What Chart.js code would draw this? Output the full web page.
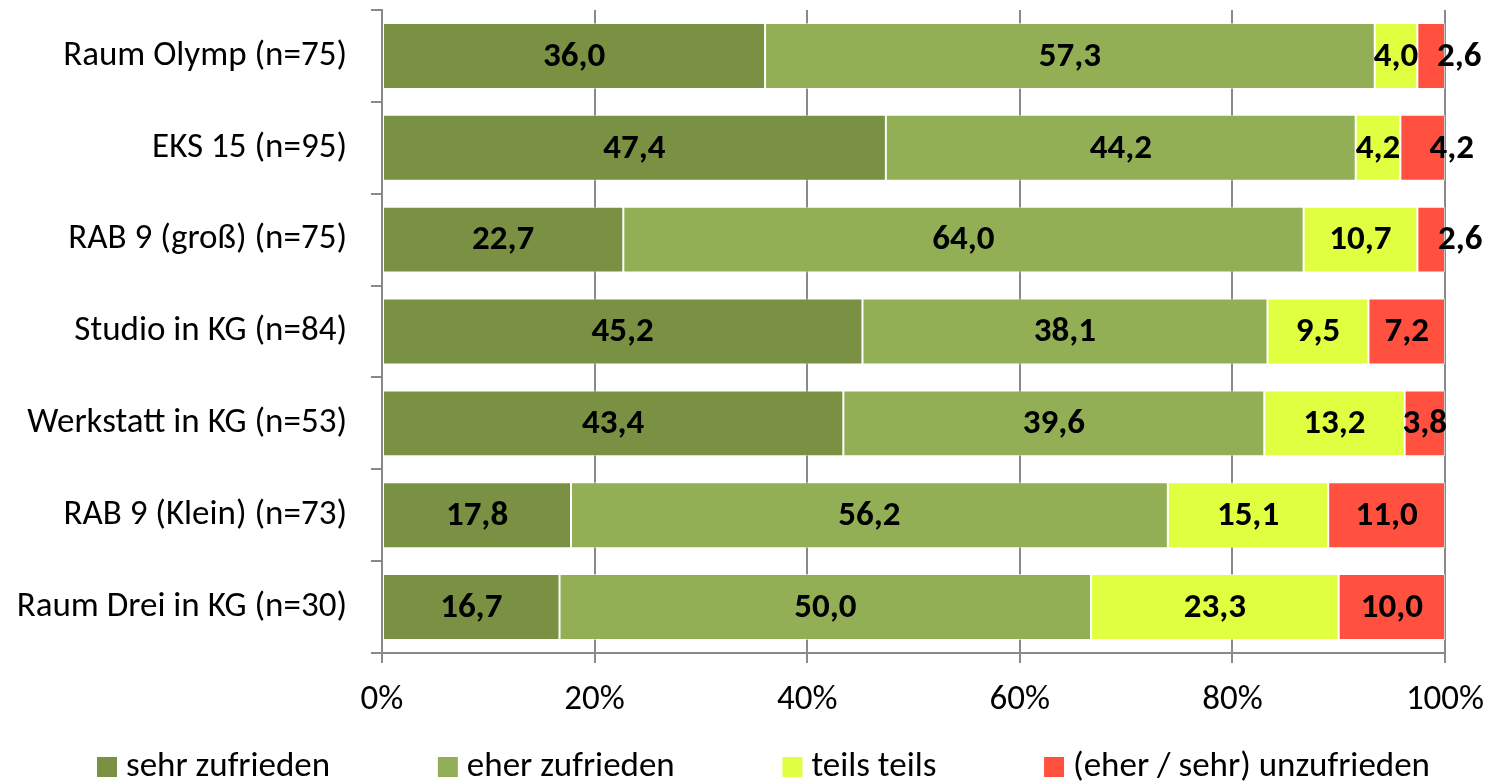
<!DOCTYPE html>
<html>
<head>
<meta charset="utf-8">
<script src="https://cdn.jsdelivr.net/npm/chart.js@4.4.1/dist/chart.umd.min.js"></script>
<style>
  html, body { margin: 0; padding: 0; background: #fff; }
  #wrap { width: 1492px; height: 783px; position: relative; }
</style>
</head>
<body>
<div id="wrap"><canvas id="myChart" width="1492" height="783"></canvas></div>
<script>
(function () {
    "use strict";

    const FONT = 'Carlito, Lato, "Noto Sans", sans-serif';

    const rooms = ['Raum Olymp (n=75)', 'EKS 15 (n=95)', 'RAB 9 (groß) (n=75)', 'Studio in KG (n=84)',
        'Werkstatt in KG (n=53)', 'RAB 9 (Klein) (n=73)', 'Raum Drei in KG (n=30)'];
    const seriesNames = ['sehr zufrieden', 'eher zufrieden', 'teils teils', '(eher / sehr) unzufrieden'];
    const sehrZufrieden = [36.0, 47.4, 22.7, 45.2, 43.4, 17.8, 16.7];
    const eherZufrieden = [57.3, 44.2, 64.0, 38.1, 39.6, 56.2, 50.0];
    const teilsTeils = [4.0, 4.2, 10.7, 9.5, 13.2, 15.1, 23.3];
    const unzufrieden = [2.6, 4.2, 2.6, 7.2, 3.8, 11.0, 10.0];
    const xTicks = [0, 20, 40, 60, 80, 100];

    const colors = ['#7a9143', '#93af56', '#dfff40', '#ff5040'];
    const raw = [sehrZufrieden, eherZufrieden, teilsTeils, unzufrieden];

    // 100% stacked: normalise each row to its total
    const totals = rooms.map((_, i) => raw.reduce((s, arr) => s + arr[i], 0));
    const datasets = raw.map((arr, k) => ({
        label: seriesNames[k],
        data: arr.map((v, i) => v / totals[i] * 100),
        rawValues: arr,
        backgroundColor: colors[k],
        borderColor: 'rgba(255,255,255,0.55)',
        borderWidth: 1,
        borderSkipped: false,
        categoryPercentage: 1,
        barPercentage: 0.718
    }));

    // labels of small end segments were moved right in the original
    const labelShift = { '3-0': 28, '3-1': 29, '3-2': 29 };

    const valueLabels = {
        id: 'valueLabels',
        afterDatasetsDraw(chart) {
            const ctx = chart.ctx;
            ctx.save();
            ctx.font = 'bold 35px ' + FONT;
            ctx.fillStyle = '#000';
            ctx.textAlign = 'center';
            ctx.textBaseline = 'middle';
            chart.data.datasets.forEach((ds, k) => {
                chart.getDatasetMeta(k).data.forEach((bar, i) => {
                    const txt = ds.rawValues[i].toFixed(1).replace('.', ',');
                    const x = (bar.x + bar.base) / 2 + (labelShift[k + '-' + i] || 0);
                    ctx.fillText(txt, x, bar.y + 1);
                });
            });
            ctx.restore();
        }
    };

    const bottomLegend = {
        id: 'bottomLegend',
        afterDraw(chart) {
            const ctx = chart.ctx;
            ctx.save();
            ctx.font = '35px ' + FONT;
            ctx.textBaseline = 'middle';
            ctx.textAlign = 'left';
            const box = 20, gap = 9, left = 97, right = 1430, y = 767;
            const widths = chart.data.datasets.map(ds => box + gap + ctx.measureText(ds.label).width);
            const spacing = (right - left - widths.reduce((a, b) => a + b, 0)) / (widths.length - 1);
            let x = left;
            chart.data.datasets.forEach((ds, k) => {
                ctx.fillStyle = ds.backgroundColor;
                ctx.fillRect(x, y - box / 2, box, box);
                ctx.fillStyle = '#000';
                ctx.fillText(ds.label, x + box + gap, y);
                x += widths[k] + spacing;
            });
            ctx.restore();
        }
    };

    function initChart() {
        const ctx = document.getElementById('myChart').getContext('2d');
        new Chart(ctx, {
            type: 'bar',
            data: { labels: rooms, datasets: datasets },
            options: {
                indexAxis: 'y',
                responsive: false,
                animation: false,
                layout: { padding: { top: 10, right: 47, bottom: 0, left: 0 } },
                plugins: {
                    legend: { display: false },
                    tooltip: { enabled: false }
                },
                scales: {
                    x: {
                        stacked: true,
                        min: 0,
                        max: 100,
                        afterFit(scale) {
                            scale.height = 130;
                            scale.paddingLeft = 0;
                            scale.paddingRight = 0;
                        },
                        afterBuildTicks(scale) { scale.ticks = xTicks.map(v => ({ value: v })); },
                        ticks: {
                            callback: v => v + '%',
                            color: '#000',
                            font: { family: FONT, size: 35 },
                            padding: 16,
                            maxRotation: 0
                        },
                        grid: { color: '#898989', lineWidth: 2, tickLength: 10, drawTicks: true },
                        border: { color: '#898989', width: 2 }
                    },
                    y: {
                        stacked: true,
                        afterFit(scale) {
                            scale.width = 382;
                            scale.paddingTop = 0;
                            scale.paddingBottom = 0;
                        },
                        ticks: {
                            color: '#000',
                            font: { family: FONT, size: 35 },
                            padding: 24
                        },
                        grid: { drawOnChartArea: false, color: '#898989', lineWidth: 2, tickLength: 11 },
                        border: { color: '#898989', width: 2 }
                    }
                }
            },
            plugins: [valueLabels, bottomLegend]
        });
    }

    document.addEventListener('DOMContentLoaded', initChart);
})();
</script>
</body>
</html>
